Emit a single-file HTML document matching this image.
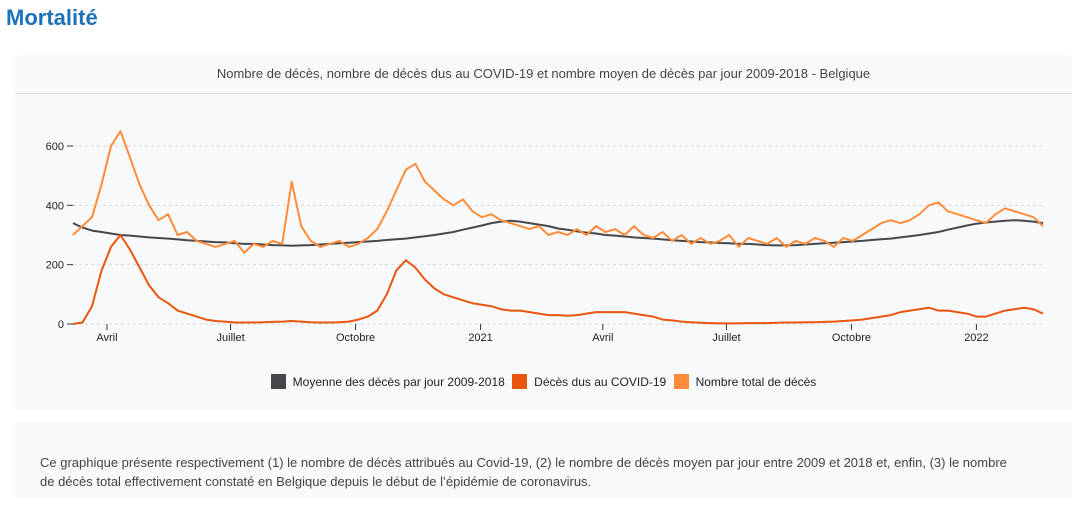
<!DOCTYPE html>
<html><head><meta charset="utf-8">
<style>
body{margin:0;width:1079px;height:508px;background:#fff;font-family:"Liberation Sans",sans-serif;position:relative;overflow:hidden}
h1{position:absolute;left:6px;top:5px;margin:0;font-size:22px;font-weight:bold;color:#1f72b8}
.card{position:absolute;background:#f8f9fa;border-radius:4px}
#c1{left:15px;top:55px;width:1057px;height:355px}
#c2{left:15px;top:422px;width:1057px;height:76px}
.ctitle{position:absolute;left:0;width:1057px;top:11px;text-align:center;font-size:13px;color:#444}
.sep{position:absolute;left:0;top:38px;width:1057px;height:1px;background:#dfe2e6}
.desc{position:absolute;left:25px;top:31px;font-size:13px;line-height:19px;color:#444;width:980px}
.legend{position:absolute;top:319px;left:0;width:1057px;text-align:center;font-size:12px;color:#222}
.li{display:inline-flex;align-items:center;margin:0 2px}
.sw{width:15px;height:15px;display:inline-block;margin-right:7px}
svg{position:absolute;left:0;top:0}
</style></head><body>
<h1>Mortalité</h1>
<div class="card" id="c1">
<div class="ctitle">Nombre de décès, nombre de décès dus au COVID-19 et nombre moyen de décès par jour 2009-2018 - Belgique</div>
<div class="sep"></div>
<div class="legend">
<span class="li"><span class="sw" style="background:#48484c"></span>Moyenne des décès par jour 2009-2018</span>
<span class="li"><span class="sw" style="background:#e8560f"></span>Décès dus au COVID-19</span>
<span class="li"><span class="sw" style="background:#ff8c3a"></span>Nombre total de décès</span>
</div>
</div>
<div class="card" id="c2">
<div class="desc">Ce graphique présente respectivement (1) le nombre de décès attribués au Covid-19, (2) le nombre de décès moyen par jour entre 2009 et 2018 et, enfin, (3) le nombre de décès total effectivement constaté en Belgique depuis le début de l’épidémie de coronavirus.</div>
</div>
<svg id="chart" width="1079" height="508"></svg>
<script>
const yTicks=[0,200,400,600];
const xTickLabels=["Avril","Juillet","Octobre","2021","Avril","Juillet","Octobre","2022"];
const xTickDays=[25,116,208,300,390,481,573,665];
const weekStep=7;
const totalDeaths=[300,330,360,470,600,650,560,470,400,350,370,300,310,280,270,260,270,280,240,270,260,280,270,480,330,280,260,270,280,260,270,290,320,380,450,520,540,480,450,420,400,420,380,360,370,350,340,330,320,330,300,310,300,320,300,330,310,320,300,330,300,290,310,280,300,270,290,270,280,300,260,290,280,270,290,260,280,270,290,280,260,290,280,300,320,340,350,340,350,370,400,410,380,370,360,350,340,370,390,380,370,360,330];
const meanDeaths=[340,325,315,310,305,300,298,295,292,290,288,285,282,280,278,276,275,272,270,270,268,266,265,264,265,266,268,270,272,274,276,278,280,283,286,288,292,296,300,305,310,318,325,332,340,345,348,345,340,335,330,322,318,312,308,305,300,298,295,292,290,288,285,282,280,278,276,275,273,272,270,270,268,266,265,265,266,268,270,272,274,276,278,280,283,286,288,292,296,300,305,310,318,325,332,338,342,345,348,350,348,345,340];
const covidDeaths=[0,5,60,180,260,300,250,190,130,90,70,45,35,25,15,10,8,5,5,5,6,7,8,10,8,6,5,5,6,8,15,25,45,100,180,215,190,150,120,100,90,80,70,65,60,50,45,45,40,35,30,30,28,30,35,40,40,40,40,35,30,25,15,12,8,6,4,3,2,2,2,3,3,3,4,5,5,6,6,7,8,10,12,15,20,25,30,40,45,50,55,45,45,40,35,25,25,35,45,50,55,50,35];
const NS="http://www.w3.org/2000/svg";
const svg=document.getElementById('chart');
const x0=73,x1=1043,dayMax=714;
function xScale(d){return x0+(x1-x0)*d/dayMax;}
function yScale(v){return 324-v*(178/600);}
function mk(tag,attrs){const e=document.createElementNS(NS,tag);for(const k in attrs)e.setAttribute(k,attrs[k]);svg.appendChild(e);return e;}
yTicks.forEach(v=>{
  const g=mk('line',{x1:x0-6,x2:x0,y1:yScale(v),y2:yScale(v),stroke:'#333'});
  
  
  const gl=mk('line',{x1:x0,x2:x1,y1:yScale(v),y2:yScale(v),stroke:'#d8d8d8','stroke-dasharray':'3,3'});
  
  
  const t=mk('text',{x:x0-9,y:yScale(v)+4,'text-anchor':'end','font-size':'11','fill':'#222','font-family':'Liberation Sans, sans-serif'});
  t.textContent=v;
  
  
});
xTickDays.forEach((d,i)=>{
  const g=mk('line',{x1:xScale(d),x2:xScale(d),y1:324,y2:330,stroke:'#333'});
  
  
  const t=mk('text',{x:xScale(d),y:341,'text-anchor':'middle','font-size':'11','fill':'#222','font-family':'Liberation Sans, sans-serif'});
  t.textContent=xTickLabels[i];
  
  
});
function line(arr,color,name,w){
  const d=arr.map((v,i)=>(i?'L':'M')+xScale(i*weekStep).toFixed(1)+','+yScale(v).toFixed(1)).join(' ');
  const p=mk('path',{d:d,fill:'none',stroke:color,'stroke-width':w,'stroke-linejoin':'round'});
  
  
}
line(meanDeaths,'#48484c',"line-moyenne",2);
line(covidDeaths,'#e8560f',"line-covid",2);
line(totalDeaths,'#ff8c3a',"line-total",2);
</script>
</body></html>
